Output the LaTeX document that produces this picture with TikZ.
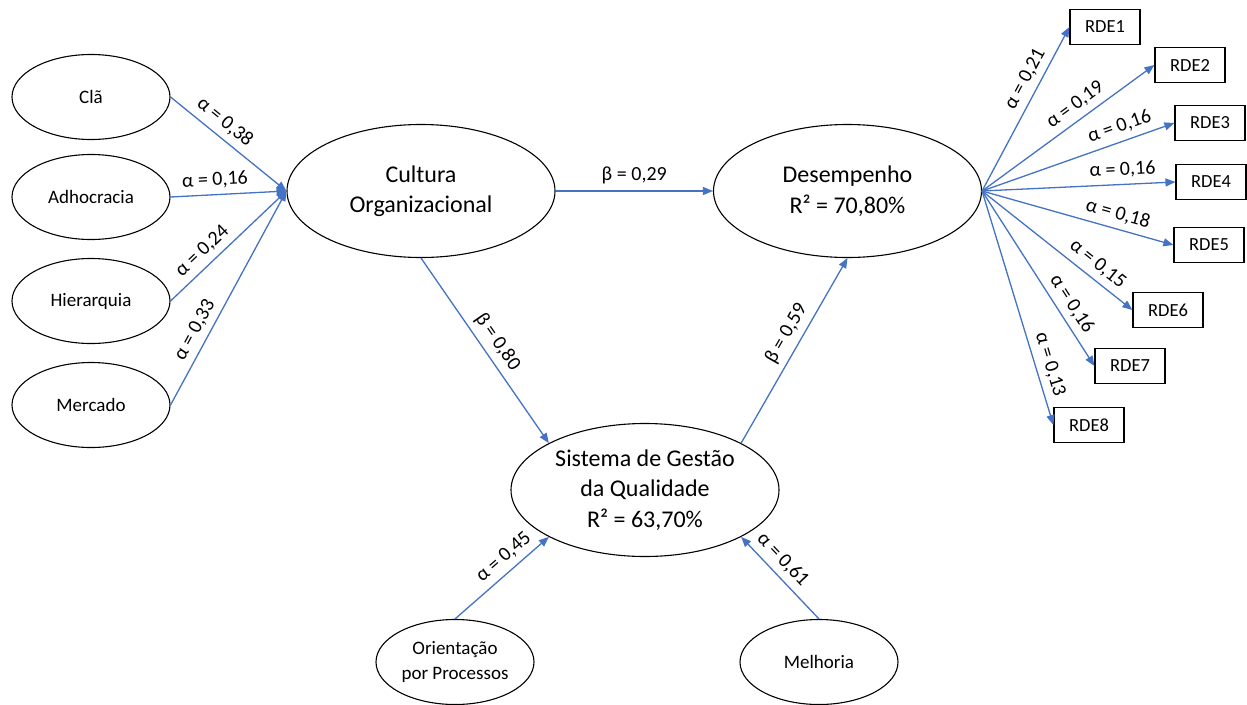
\documentclass[tikz,border=0pt]{standalone}
\usepackage{fontspec}
\setmainfont{Carlito}
\usetikzlibrary{shapes.geometric,arrows.meta}
\definecolor{lblue}{HTML}{4472C4}
\begin{document}
\begin{tikzpicture}[x=1pt,y=-1pt,
 ell/.style={draw, ellipse, line width=1.1pt, inner sep=0pt, align=center},
 big/.style={ell, minimum width=268, minimum height=133, font=\fontsize{24}{30.5}\selectfont},
 small/.style={ell, minimum width=158, minimum height=85, font=\fontsize{19}{25}\selectfont},
 box/.style={draw, line width=1.2pt, minimum width=70, minimum height=35, inner sep=0pt, font=\fontsize{18.5}{22}\selectfont},
 arr/.style={draw=lblue, line width=1.3pt, -{Triangle[length=10pt,width=8pt]}},
 lbl/.style={sloped, above, inner sep=6pt, font=\fontsize{20}{24}\selectfont, text=black}]
\useasboundingbox (0,0) rectangle (1247,704);
\node[small] (cla) at (91,97) {Clã};
\node[small] (adh) at (91,197) {Adhocracia};
\node[small] (hie) at (91,301) {Hierarquia};
\node[small] (mer) at (91,405) {Mercado};
\node[big] (cul) at (421,191) {Cultura\\Organizacional};
\node[big] (des) at (847.5,191) {Desempenho\\R² = 70,80\%};
\node[big] (sgq) at (645,490) {Sistema de Gestão\\da Qualidade\\R² = 63,70\%};
\node[small] (ori) at (455,662) {Orientação\\por Processos};
\node[small] (mel) at (819,662) {Melhoria};
\node[box] (r1) at (1105,27) {RDE1};
\node[box] (r2) at (1190,65) {RDE2};
\node[box] (r3) at (1210,123) {RDE3};
\node[box] (r4) at (1211,182) {RDE4};
\node[box] (r5) at (1209,245) {RDE5};
\node[box] (r6) at (1168,310) {RDE6};
\node[box] (r7) at (1130,366) {RDE7};
\node[box] (r8) at (1089,425) {RDE8};
% left
\draw[arr] (cla.east) -- node[lbl,pos=0.39]{α = 0,38} (cul.west);
\draw[arr] (adh.east) -- node[lbl,pos=0.39]{α = 0,16} (cul.west);
\draw[arr] (hie.east) -- node[lbl,pos=0.36]{α = 0,24} (cul.west);
\draw[arr] (mer.east) -- node[lbl,pos=0.32]{α = 0,33} (cul.west);
% structural
\draw[arr] (cul.east) -- node[lbl,pos=0.5]{β = 0,29} (des.west);
\draw[arr] (cul.south) -- node[lbl,pos=0.5]{β = 0,80} (sgq.154);
\draw[arr] (sgq.26) -- node[lbl,pos=0.55]{β = 0,59} (des.south);
\draw[arr] (ori.north) -- node[lbl,pos=0.62]{α = 0,45} (sgq.206);
\draw[arr] (mel.north) -- node[lbl,pos=0.6]{α = 0,61} (sgq.334);
% right
\draw[arr] (des.east) -- node[lbl,pos=0.64]{α = 0,21} (r1.west);
\draw[arr] (des.east) -- node[lbl,pos=0.59]{α = 0,19} (r2.west);
\draw[arr] (des.east) -- node[lbl,pos=0.74]{α = 0,16} (r3.west);
\draw[arr] (des.east) -- node[lbl,pos=0.73]{α = 0,16} (r4.west);
\draw[arr] (des.east) -- node[lbl,pos=0.69]{α = 0,18} (r5.west);
\draw[arr] (des.east) -- node[lbl,pos=0.71]{α = 0,15} (r6.west);
\draw[arr] (des.east) -- node[lbl,pos=0.69]{α = 0,16} (r7.west);
\draw[arr] (des.east) -- node[lbl,pos=0.76]{α = 0,13} (r8.west);
\end{tikzpicture}
\end{document}
